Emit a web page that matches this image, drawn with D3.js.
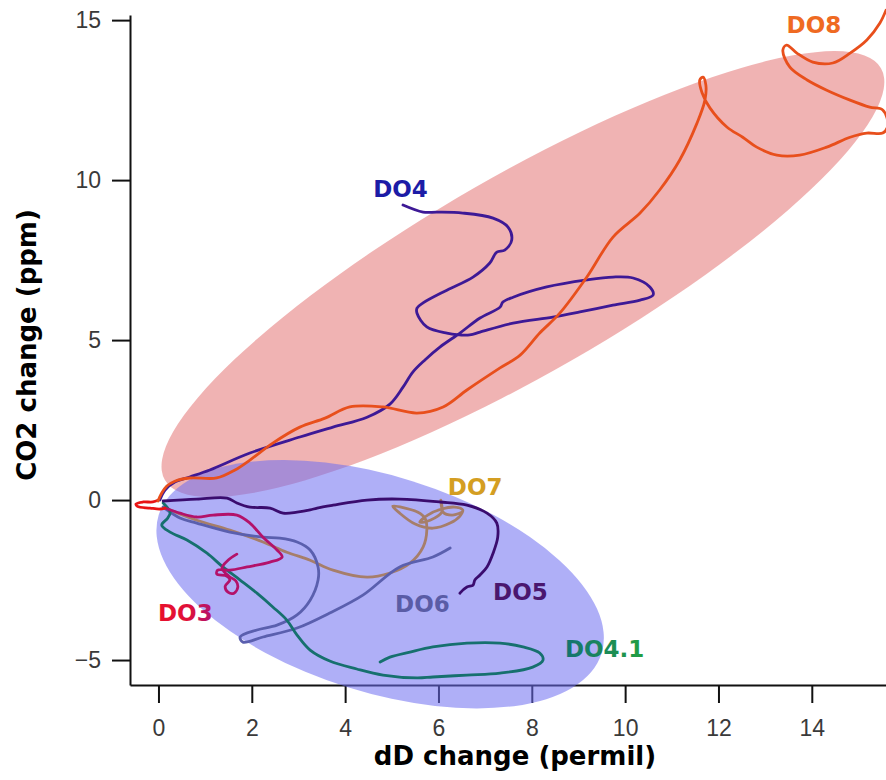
<!DOCTYPE html>
<html><head><meta charset="utf-8">
<script src="https://cdn.jsdelivr.net/npm/d3@7"></script>
<style>body{margin:0;background:#fff}svg{display:block}</style>
</head><body>
<svg id="c" width="886" height="780"></svg>
<script>
// ---- data (dD change permil, CO2 change ppm) ----
const xTicks = [0, 2, 4, 6, 8, 10, 12, 14];
const yTicks = [-5, 0, 5, 10, 15];

const DO8 = [[-0.01,-0.03],[0.07,0.22],[0.18,0.44],[0.35,0.59],[0.67,0.69],[1.25,0.69],[1.64,0.94],[1.96,1.25],[2.45,1.78],[3.03,2.28],[3.57,2.56],[4.10,2.91],[4.81,2.91],[5.54,2.72],[6.10,2.91],[6.61,3.44],[7.32,4.13],[7.75,4.53],[8.17,5.22],[8.60,5.84],[9.18,6.97],[9.74,8.22],[10.32,8.97],[10.74,9.69],[11.17,10.63],[11.54,11.78],[11.71,12.50],[11.73,12.97],[11.67,13.22],[11.60,13.13],[11.65,12.72],[11.82,12.25],[12.18,11.66],[12.52,11.34],[12.82,11.03],[13.25,10.78],[13.74,10.78],[14.32,11.03],[14.82,11.34],[15.18,11.47],[15.52,11.47],[15.63,11.72],[15.52,12.19],[15.24,12.28],[14.82,12.50],[14.32,12.81],[13.90,13.13],[13.53,13.53],[13.38,14.06],[13.46,14.22],[13.68,13.97],[14.02,13.69],[14.45,13.66],[14.82,13.97],[15.18,14.38],[15.46,14.91],[15.59,15.31]];

const DO4 = [[0.03,0],[0.14,0.31],[0.35,0.56],[0.67,0.72],[1.10,0.94],[1.96,1.47],[3.03,1.97],[3.74,2.28],[4.47,2.59],[4.96,3.00],[5.24,3.53],[5.45,4.00],[5.71,4.38],[6.03,4.78],[6.46,5.22],[6.89,5.69],[7.32,6.03],[7.38,6.19],[7.60,6.34],[8.32,6.66],[9.18,6.88],[9.74,6.97],[10.17,6.94],[10.53,6.66],[10.60,6.41],[10.32,6.25],[9.74,6.09],[9.03,5.88],[8.45,5.72],[7.60,5.53],[6.89,5.25],[6.67,5.16],[6.18,5.22],[5.75,5.41],[5.54,5.84],[5.54,6.00],[5.67,6.16],[6.18,6.56],[6.74,6.97],[7.10,7.41],[7.25,7.75],[7.42,7.81],[7.57,8.13],[7.49,8.53],[7.17,8.81],[6.52,8.97],[5.97,9.00],[5.67,9.00],[5.24,9.22]];

const DO5 = [[0.10,-0.03],[0.82,0.03],[1.47,0.06],[1.68,-0.09],[1.96,-0.22],[2.39,-0.25],[2.67,-0.41],[2.97,-0.38],[3.25,-0.31],[3.40,-0.25],[3.74,-0.16],[4.47,0],[5.17,0.03],[6.03,-0.06],[6.61,-0.16],[7.04,-0.41],[7.25,-0.72],[7.27,-1.16],[7.17,-1.66],[7.04,-2.09],[6.89,-2.34],[6.78,-2.50],[6.74,-2.66],[6.61,-2.72],[6.46,-2.91]];

const DO7 = [[0.10,-0.22],[0.82,-0.63],[1.53,-0.94],[2.24,-1.31],[2.75,-1.63],[3.25,-1.88],[3.74,-2.19],[4.47,-2.41],[4.96,-2.28],[5.39,-1.97],[5.67,-1.47],[5.75,-0.94],[5.71,-0.56],[5.56,-0.38],[5.28,-0.25],[5.02,-0.19],[5.17,-0.41],[5.50,-0.75],[5.88,-0.88],[6.25,-0.72],[6.46,-0.50],[6.52,-0.31],[6.35,-0.22],[6.07,-0.28],[5.77,-0.47],[5.60,-0.69],[5.82,-0.63],[6.07,-0.38],[6.05,0],[6.10,-0.38],[6.29,-0.47],[6.50,-0.38]];

const DO6 = [[0.10,-0.22],[0.46,-0.56],[0.82,-0.72],[1.53,-1.00],[2.24,-1.16],[2.60,-1.19],[2.97,-1.31],[3.25,-1.56],[3.42,-2.09],[3.42,-2.50],[3.25,-3.13],[2.97,-3.59],[2.54,-3.91],[2.11,-4.06],[1.75,-4.28],[1.81,-4.44],[2.24,-4.28],[2.97,-4.00],[3.67,-3.53],[4.38,-2.97],[5.17,-2.09],[5.88,-1.78],[6.25,-1.50]];

const DO3start = [[0.14,-0.25],[0.03,-0.28],[-0.18,-0.25],[-0.45,-0.20],[-0.48,-0.12],[-0.33,-0.06],[-0.12,-0.06],[0.0,0.0]];

const DO3 = [[0.14,-0.25],[0.46,-0.41],[0.82,-0.53],[1.17,-0.47],[1.68,-0.47],[1.96,-0.72],[2.24,-1.16],[2.54,-1.56],[2.65,-1.78],[2.39,-1.94],[1.90,-2.09],[1.53,-2.19],[1.27,-2.19],[1.25,-2.31],[1.47,-2.38],[1.53,-2.50],[1.43,-2.69],[1.49,-2.88],[1.62,-2.91],[1.70,-2.72],[1.66,-2.53],[1.51,-2.38],[1.36,-2.13],[1.49,-1.88],[1.68,-1.69]];

const DO41 = [[0.10,-0.09],[0.25,-0.38],[0.20,-0.56],[0.07,-0.78],[0.25,-1.00],[0.61,-1.25],[1.04,-1.66],[1.38,-2.09],[1.75,-2.50],[2.11,-2.91],[2.45,-3.34],[2.75,-3.75],[2.97,-4.22],[3.25,-4.69],[3.67,-5.03],[4.25,-5.28],[4.81,-5.47],[5.54,-5.56],[5.88,-5.53],[6.61,-5.47],[7.32,-5.41],[8.02,-5.22],[8.24,-5.00],[8.17,-4.78],[7.81,-4.59],[7.32,-4.47],[6.61,-4.47],[5.88,-4.59],[5.39,-4.75],[4.96,-4.91],[4.75,-5.06]];

// ---- styling / layout ----
const x = d3.scaleLinear().domain([-0.61, 15.59]).range([130, 886]);
const y = d3.scaleLinear().domain([-5.78, 15.16]).range([685, 15]);

const series = [
  {data: DO7, color: "#a67e6a"},
  {data: DO6, color: "#5a5fae"},
  {data: DO41, color: "#16706e"},
  {data: DO3, color: "#b3126a"},
  {data: DO3start, color: "#e81414"},
  {data: DO5, color: "#3a0c6e"},
  {data: DO4, color: "#3d1996"},
  {data: DO8, color: "#e84f1c"}
];

const ellipses = [
  {cx: 7.81, cy: 7.06, rx: 413, ry: 99, angle: -29.9, fill: "rgb(224,96,96)", op: 0.48},
  {cx: 4.75, cy: -2.63, rx: 232, ry: 108, angle: 17.4, fill: "rgb(110,110,240)", op: 0.55}
];

const labels = [
  {text: "DO8", x: 13.46, y: 14.59, fill: "#ef6a22"},
  {text: "DO4", x: 4.60, y: 9.47, fill: "#1c1ca6"},
  {text: "DO7", x: 6.20, y: 0.16, fill: "#d49e22"},
  {text: "DO5", x: 7.17, y: -3.13, fill: "#4a176f"},
  {text: "DO6", x: 5.07, y: -3.50, fill: "#5a5ca6"},
  {text: "DO3", x: -0.01, y: -3.78, fill: "url(#gDO3)"},
  {text: "DO4.1", x: 8.71, y: -4.91, fill: "url(#gDO41)"}
];

const svg = d3.select("#c");
const defs = svg.append("defs");
const g1 = defs.append("linearGradient").attr("id", "gDO3");
g1.append("stop").attr("offset", "0%").attr("stop-color", "#e8102c");
g1.append("stop").attr("offset", "55%").attr("stop-color", "#e0103a");
g1.append("stop").attr("offset", "100%").attr("stop-color", "#b01470");
const g2 = defs.append("linearGradient").attr("id", "gDO41");
g2.append("stop").attr("offset", "0%").attr("stop-color", "#137272");
g2.append("stop").attr("offset", "100%").attr("stop-color", "#22a040");

// axes
const yAxis = d3.axisLeft(y).tickValues(yTicks).tickSize(18).tickSizeOuter(0).tickPadding(11)
  .tickFormat(d => d < 0 ? "\u2212" + Math.abs(d) : d);
const xAxis = d3.axisBottom(x).tickValues(xTicks).tickSize(18).tickSizeOuter(0).tickPadding(17);

const gy = svg.append("g").attr("transform", "translate(130,0)").call(yAxis);
const gx = svg.append("g").attr("transform", "translate(0,685)").call(xAxis);
[gy, gx].forEach(g => {
  g.select(".domain").attr("stroke", "#111").attr("stroke-width", 2);
  g.selectAll(".tick line").attr("stroke", "#111").attr("stroke-width", 2);
  g.selectAll(".tick text").attr("fill", "#3a3a3a")
    .style("font-family", "'Liberation Sans', Arial, sans-serif").style("font-size", "23px");
});

// ellipses
svg.append("g").selectAll("ellipse").data(ellipses).join("ellipse")
  .attr("transform", d => `translate(${x(d.cx)},${y(d.cy)}) rotate(${d.angle})`)
  .attr("rx", d => d.rx).attr("ry", d => d.ry)
  .attr("fill", d => d.fill).attr("fill-opacity", d => d.op);

// lines
const line = d3.line().x(d => x(d[0])).y(d => y(d[1])).curve(d3.curveCatmullRom.alpha(0.5));
svg.append("g").selectAll("path").data(series).join("path")
  .attr("d", d => line(d.data)).attr("fill", "none")
  .attr("stroke", d => d.color).attr("stroke-width", 2.8)
  .attr("stroke-linejoin", "round").attr("stroke-linecap", "round");

// series labels
svg.append("g").selectAll("text").data(labels).join("text")
  .attr("x", d => x(d.x)).attr("y", d => y(d.y))
  .attr("fill", d => d.fill)
  .style("font-family", "'DejaVu Sans', sans-serif").style("font-weight", "bold").style("font-size", "23px")
  .text(d => d.text);

// axis titles
svg.append("text").attr("x", 515).attr("y", 765).attr("text-anchor", "middle")
  .style("font-family", "'DejaVu Sans', sans-serif").style("font-weight", "bold").style("font-size", "26px")
  .attr("fill", "#000").text("dD change (permil)");
svg.append("text").attr("transform", "translate(36,345) rotate(-90)").attr("text-anchor", "middle")
  .style("font-family", "'DejaVu Sans', sans-serif").style("font-weight", "bold").style("font-size", "26px")
  .attr("fill", "#000").text("CO2 change (ppm)");
</script>
</body></html>
